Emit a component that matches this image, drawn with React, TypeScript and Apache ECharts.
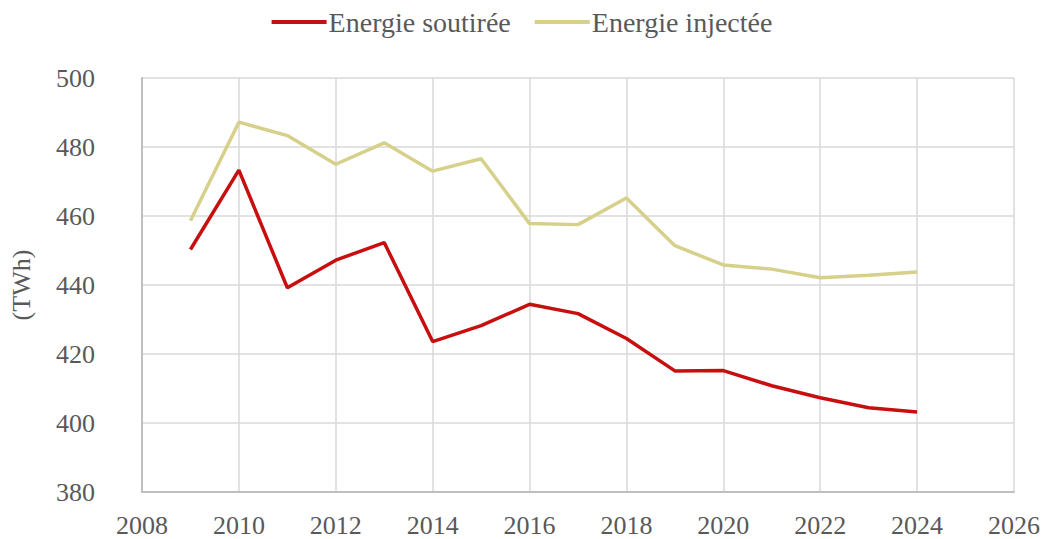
import React, { useEffect, useRef } from "react";
import * as echarts from "echarts";

const years = [2009, 2010, 2011, 2012, 2013, 2014, 2015, 2016, 2017, 2018, 2019, 2020, 2021, 2022, 2023, 2024];
const soutiree = [450.3, 473.3, 439.2, 447.2, 452.3, 423.6, 428.2, 434.4, 431.7, 424.5, 415.1, 415.2, 410.8, 407.3, 404.4, 403.2];
const injectee = [458.6, 487.2, 483.3, 475.0, 481.2, 473.0, 476.6, 457.8, 457.5, 465.2, 451.4, 445.8, 444.6, 442.1, 442.8, 443.8];
const seriesNames = ["Energie soutirée", "Energie injectée"];
const seriesColors = ["#C80F0F", "#D6D08A"];

const FONT = "'Liberation Serif', 'DejaVu Serif', serif";
const TXT = "#595959";

export default function App() {
  const ref = useRef<HTMLDivElement>(null);
  useEffect(() => {
    if (!ref.current) return;
    const chart = echarts.init(ref.current, null, { renderer: "svg" });
    const mk = (vals: number[]) => years.map((y, i) => [y, vals[i]]);
    chart.setOption({
      animation: false,
      textStyle: { fontFamily: FONT, color: TXT },
      legend: {
        top: 3,
        left: "center",
        itemWidth: 55,
        itemHeight: 4,
        itemGap: 24,
        icon: "rect",
        textStyle: { fontFamily: FONT, fontSize: 28, color: TXT, padding: [0, 0, 0, -3] },
        data: seriesNames,
      },
      grid: { left: 142, right: 30, top: 78, bottom: 47, containLabel: false },
      xAxis: {
        type: "value",
        min: 2008,
        max: 2026,
        interval: 2,
        axisLine: { show: true, lineStyle: { color: "#BFBFBF", width: 2 } },
        axisTick: { show: false },
        axisLabel: { fontFamily: FONT, fontSize: 26, color: TXT, margin: 20, formatter: (v: number) => String(v) },
        splitLine: { show: true, lineStyle: { color: "#D9D9D9", width: 1.5 } },
      },
      yAxis: {
        type: "value",
        min: 380,
        max: 500,
        interval: 20,
        name: "(TWh)",
        nameLocation: "middle",
        nameGap: 108,
        nameRotate: 90,
        nameTextStyle: { fontFamily: FONT, fontSize: 26, color: TXT },
        axisLine: { show: true, lineStyle: { color: "#BFBFBF", width: 2 } },
        axisTick: { show: false },
        axisLabel: { fontFamily: FONT, fontSize: 26, color: TXT, margin: 47 },
        splitLine: { show: true, lineStyle: { color: "#D9D9D9", width: 1.5 } },
      },
      series: [
        {
          name: seriesNames[0],
          type: "line",
          data: mk(soutiree),
          symbol: "none",
          lineStyle: { color: seriesColors[0], width: 3.5 },
          itemStyle: { color: seriesColors[0] },
        },
        {
          name: seriesNames[1],
          type: "line",
          data: mk(injectee),
          symbol: "none",
          lineStyle: { color: seriesColors[1], width: 3.5 },
          itemStyle: { color: seriesColors[1] },
        },
      ],
    });
    return () => chart.dispose();
  }, []);
  return <div ref={ref} style={{ width: 1044, height: 539, position: "absolute", left: 0, top: 0 }} />;
}
